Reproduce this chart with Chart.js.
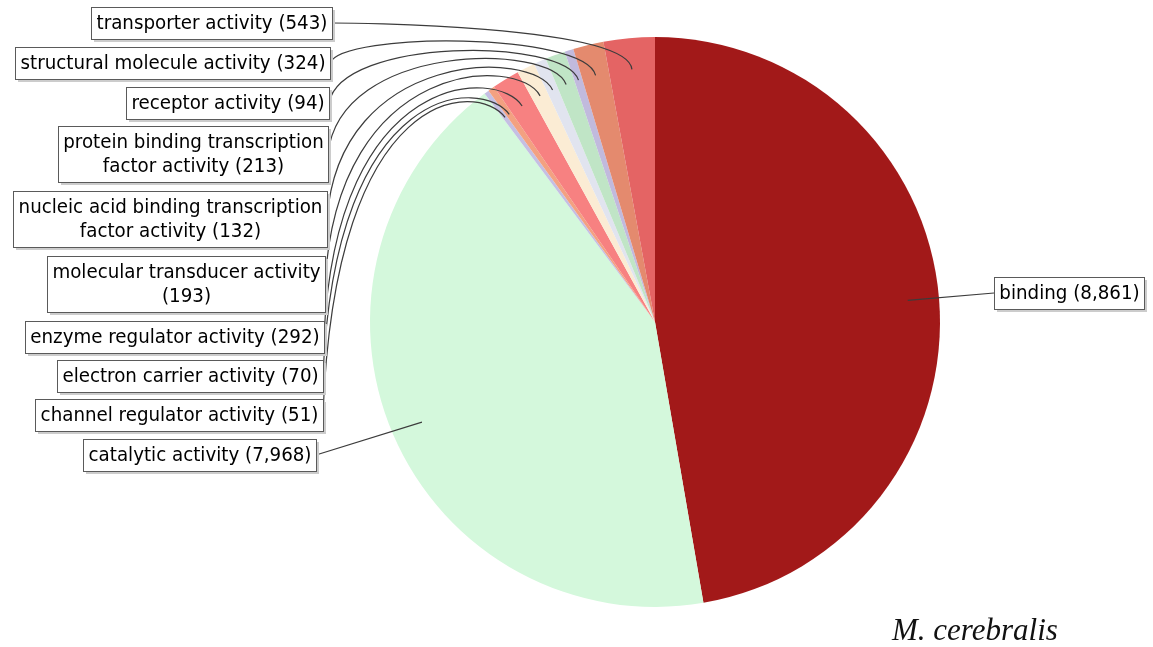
<!DOCTYPE html>
<html lang="en">
<head>
<meta charset="UTF-8">
<title>M. cerebralis - molecular function</title>
<script src="https://cdn.jsdelivr.net/npm/chart.js"></script>
<style>
  html, body { margin: 0; padding: 0; background: #fff; }
  #wrap { width: 1153px; height: 647px; position: relative; }
</style>
</head>
<body>
<div id="wrap"><canvas id="pie"></canvas></div>
<script>
// GO molecular function counts, clockwise from 12 o'clock
const categories = [
  'binding',
  'catalytic activity',
  'channel regulator activity',
  'electron carrier activity',
  'enzyme regulator activity',
  'molecular transducer activity',
  'nucleic acid binding transcription factor activity',
  'protein binding transcription factor activity',
  'receptor activity',
  'structural molecule activity',
  'transporter activity'
];
const counts = [8861, 7968, 51, 70, 292, 193, 132, 213, 94, 324, 543];
const colors = ['#a21919', '#d4f8dc', '#c5bfe3', '#f3a181', '#f78181', '#fbecd4',
                '#e1e4ef', '#c0e5c6', '#c1badd', '#e48a6e', '#e46464'];
const speciesName = 'M. cerebralis';

// where each label box sits (x = box edge nearest the pie), words on first line if wrapped
const boxes = [
  { side: 'right', x: 994, top: 277, straight: true },
  { side: 'left', x: 316, top: 439, straight: true },
  { side: 'left', x: 323, top: 399 },
  { side: 'left', x: 323, top: 360 },
  { side: 'left', x: 324, top: 321 },
  { side: 'left', x: 325, top: 256, wrap: 3 },
  { side: 'left', x: 327, top: 191, wrap: 4 },
  { side: 'left', x: 328, top: 126, wrap: 3 },
  { side: 'left', x: 329, top: 87 },
  { side: 'left', x: 330, top: 47 },
  { side: 'left', x: 332, top: 7 }
];

const FONT = '20.3px "DejaVu Sans Condensed", "DejaVu Sans", sans-serif';
const padX = 5, padY = 4, lineH = 24;

function labelLines(i) {
  const words = (categories[i] + ' (' + counts[i].toLocaleString('en-US') + ')').split(' ');
  const n = boxes[i].wrap;
  if (!n) return [words.join(' ')];
  return [words.slice(0, n).join(' '), words.slice(n).join(' ')];
}

const labelPlugin = {
  id: 'boxLabels',
  afterDatasetsDraw(chart) {
    const ctx = chart.ctx;
    const arcs = chart.getDatasetMeta(0).data;
    ctx.save();
    ctx.font = FONT;

    const geo = boxes.map((b, i) => {
      const lines = labelLines(i);
      const w = Math.round(Math.max(...lines.map(l => ctx.measureText(l).width)) + 2 * padX);
      const h = lines.length * lineH + 2 * padY;
      const left = b.side === 'right' ? b.x : b.x - w;
      return { lines, left, top: b.top, w, h };
    });

    // leader lines
    ctx.strokeStyle = '#3c3c3c';
    ctx.lineWidth = 1.2;
    arcs.forEach((arc, i) => {
      const mid = (arc.startAngle + arc.endAngle) / 2;
      const r = arc.outerRadius * 0.89;
      const ax = arc.x + r * Math.cos(mid);
      const ay = arc.y + r * Math.sin(mid);
      const g = geo[i];
      const sy = g.top + g.h / 2;
      ctx.beginPath();
      if (boxes[i].side === 'right') {
        ctx.moveTo(g.left, sy);
        ctx.lineTo(ax, ay);
      } else if (boxes[i].straight) {
        ctx.moveTo(g.left + g.w, sy);
        ctx.lineTo(ax, ay);
      } else {
        const sx = g.left + g.w;
        const c2x = ax + 45 * Math.cos(mid), c2y = ay + 45 * Math.sin(mid);
        ctx.moveTo(sx, sy);
        ctx.bezierCurveTo(sx + 12, Math.min(sy, c2y), c2x, c2y, ax, ay);
      }
      ctx.stroke();
    });

    // boxes
    geo.forEach(g => {
      ctx.fillStyle = '#cccccc';
      ctx.fillRect(g.left + 3, g.top + 3, g.w, g.h);
      ctx.fillStyle = '#fff';
      ctx.fillRect(g.left, g.top, g.w, g.h);
      ctx.strokeStyle = '#5a5a5a';
      ctx.lineWidth = 1;
      ctx.strokeRect(g.left + 0.5, g.top + 0.5, g.w, g.h);
      ctx.fillStyle = '#000';
      ctx.textAlign = 'center';
      ctx.textBaseline = 'middle';
      g.lines.forEach((l, k) => {
        ctx.fillText(l, g.left + g.w / 2 + 0.5, g.top + padY + lineH * (k + 0.5) + 1);
      });
    });

    // species name
    ctx.font = 'italic 31px "Liberation Serif", "Times New Roman", serif';
    ctx.fillStyle = '#111';
    ctx.textAlign = 'left';
    ctx.textBaseline = 'alphabetic';
    ctx.fillText(speciesName, 892, 640);
    ctx.restore();
  }
};

new Chart(document.getElementById('pie'), {
  type: 'pie',
  data: {
    labels: categories,
    datasets: [{
      data: counts,
      backgroundColor: colors,
      borderWidth: 0,
      hoverOffset: 0
    }]
  },
  options: {
    responsive: true,
    maintainAspectRatio: false,
    animation: false,
    events: [],
    layout: { padding: { top: 37, bottom: 40, left: 370, right: 213 } },
    plugins: {
      legend: { display: false },
      tooltip: { enabled: false },
      title: { display: false }
    }
  },
  plugins: [labelPlugin]
});
</script>
</body>
</html>
